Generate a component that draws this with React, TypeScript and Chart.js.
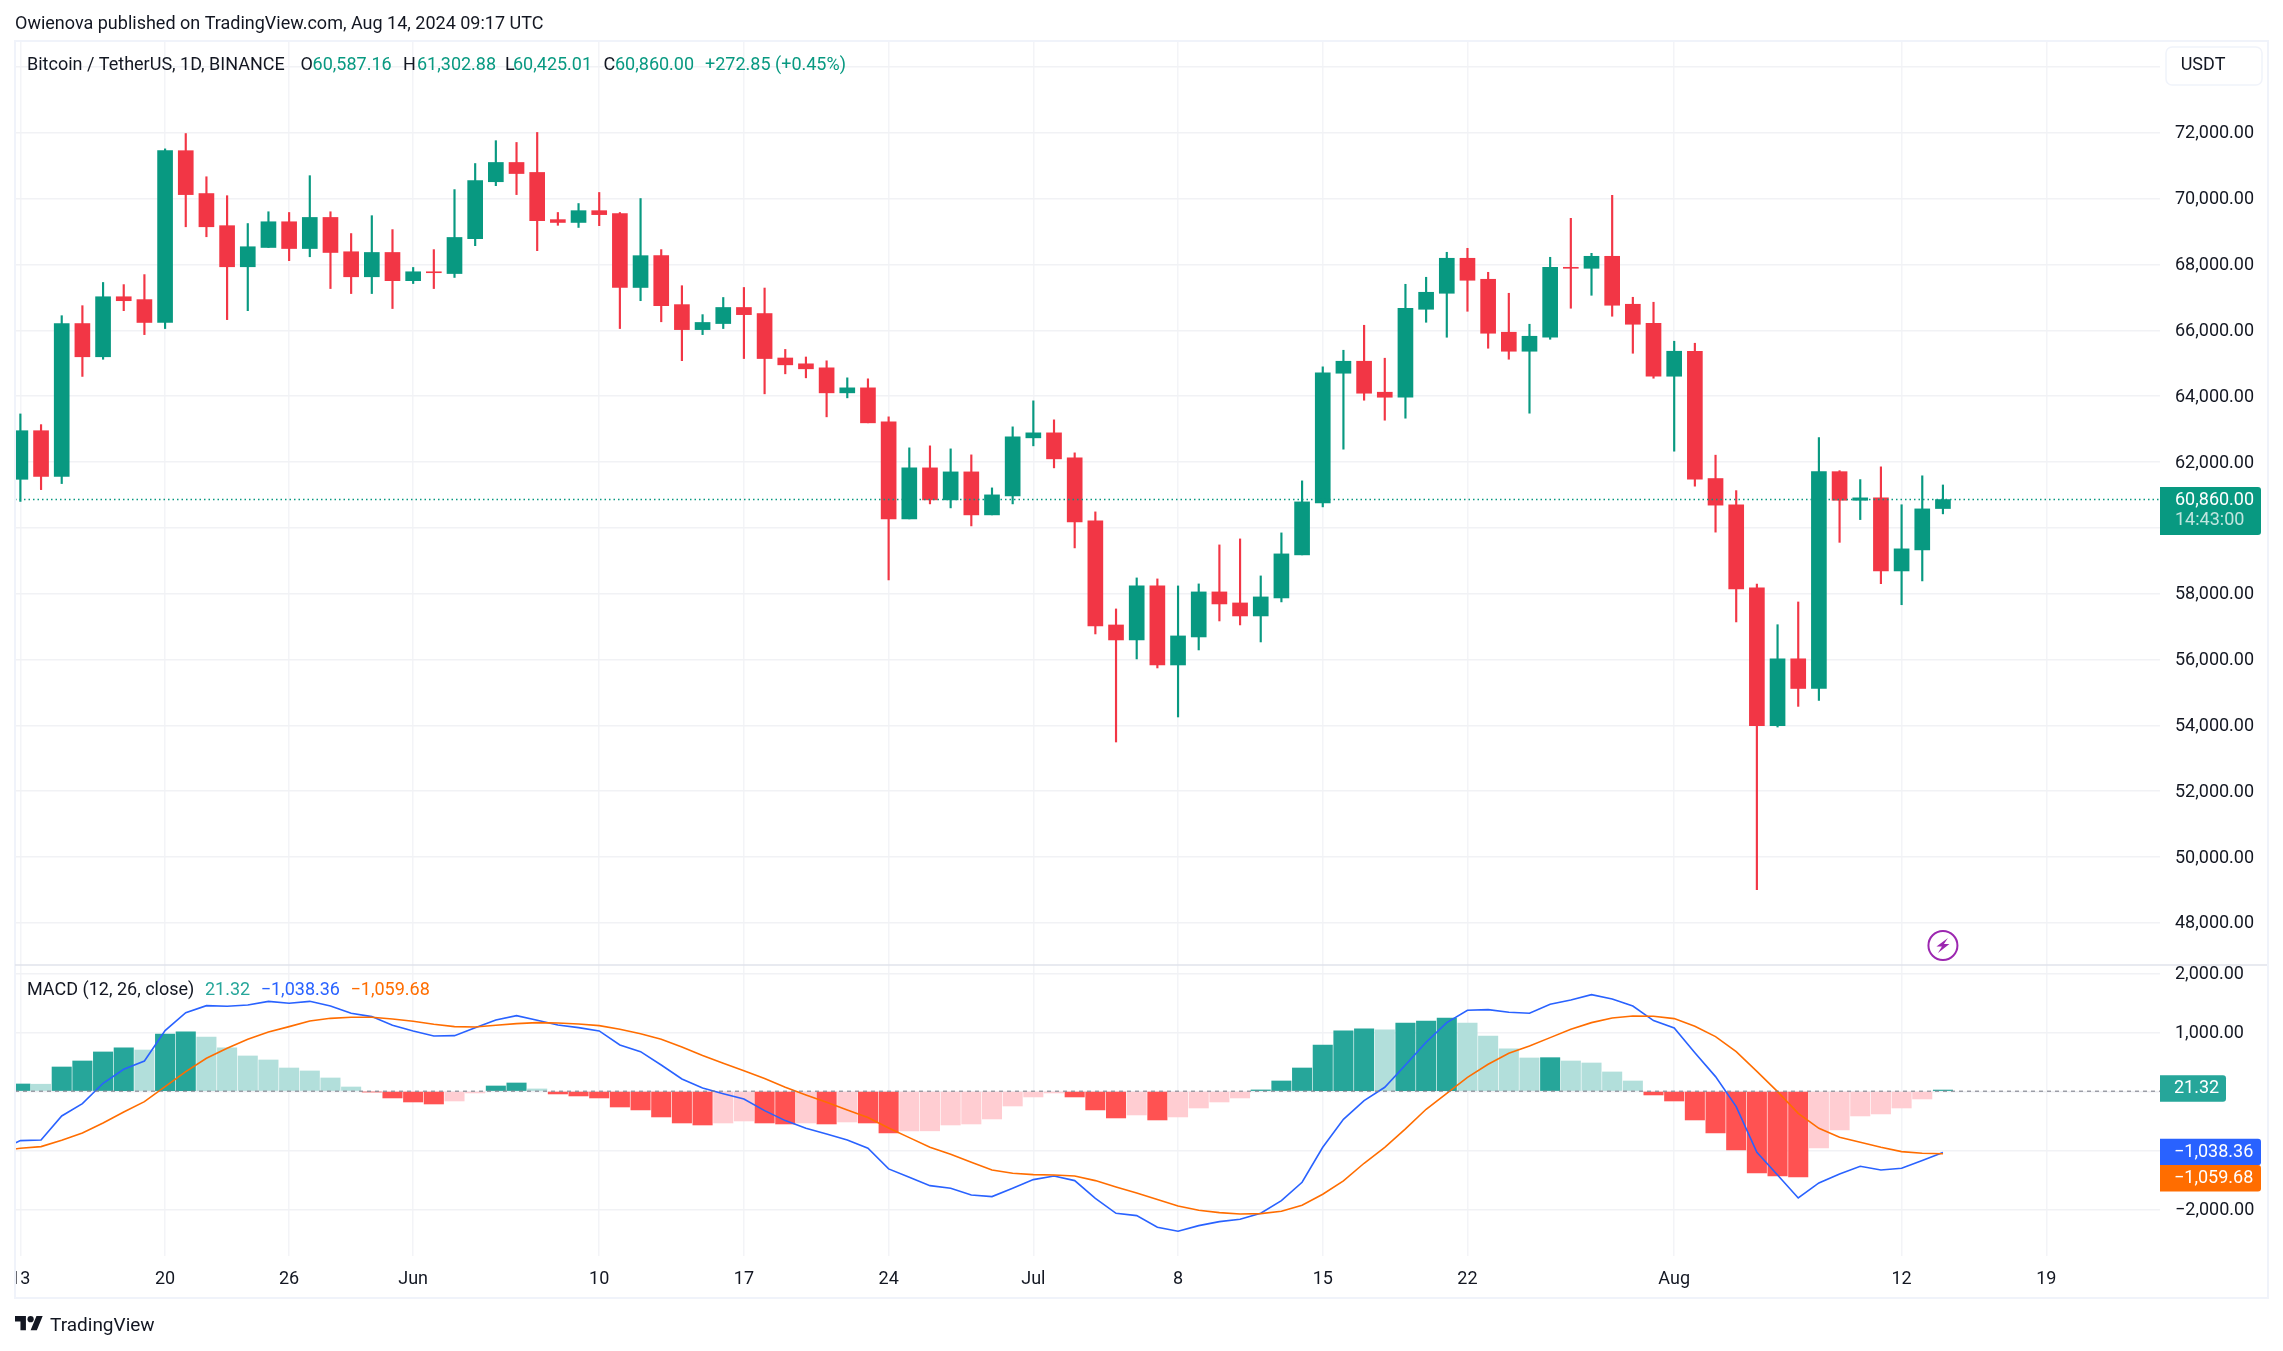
import React, { useEffect, useRef } from "react";
import { Chart, registerables } from "chart.js";

Chart.register(...registerables);

const candleOpen = [61475,62951,61562,66206,65197,67020,66933,66239,71457,70155,69179,67931,68517,69298,68485,69429,68387,67627,68365,67508,67779,67725,68788,70514,71099,70796,69363,69277,69635,69548,67302,68268,66781,66022,66206,66694,66510,65160,64983,64861,64101,64253,63220,60272,61822,60850,61700,60394,60971,62734,62886,62126,60211,57050,56595,58236,55835,56686,58054,57719,57324,57871,59179,60758,64697,65061,64120,63968,66640,67126,68189,67551,65942,65365,65790,67915,67885,68249,66792,66215,64606,65365,61498,60702,58178,53990,56022,55121,61707,60838,60911,58691,59330,60587.16];
const candleHigh = [63461,63136,66445,66749,67454,67389,67693,71512,71978,70665,70090,69244,69602,69580,70698,69602,68940,69483,69060,67910,68452,70275,71067,71761,71707,72011,69580,69852,70188,69580,70004,68452,67356,66477,66998,67302,67285,65420,65190,65074,64557,64527,63372,62430,62491,62399,62217,61214,63068,63858,63281,62278,60485,57537,58479,58449,58236,58297,59482,59664,58540,59847,61427,64891,65395,66154,65153,67399,67612,68371,68492,67763,67126,66185,68219,69403,68340,70101,67004,66853,65669,65608,62208,61131,58294,57058,57749,62743,61738,61466,61853,60702,61581,61302.88];
const candleLow = [60803,61161,61345,64600,65121,66597,65870,66054,69146,68843,66325,66597,68517,68116,68235,67269,67117,67117,66662,67421,67269,67606,68571,70394,70123,68419,69190,69125,69179,66054,66900,66260,65078,65870,66054,65143,64071,64679,64557,63372,63949,63190,58418,60272,60728,60606,60059,60394,60728,62491,61822,59391,56777,53495,56018,55744,54255,56291,57172,57051,56534,57750,59179,60637,62390,63877,63270,63331,66245,65790,66579,65456,65122,63483,65729,66671,67065,66428,65304,64545,62329,61266,59870,57142,49007,53950,54577,54755,59560,60251,58304,57665,58388,60425.01];
const candleClose = [62951,61562,66206,65197,67020,66900,66239,71457,70123,69146,67931,68539,69298,68485,69429,68365,67627,68365,67508,67779,67750,68821,70546,71099,70763,69331,69277,69635,69515,67302,68268,66749,66022,66239,66694,66477,65143,64952,64831,64101,64253,63190,60272,61822,60850,61700,60394,61002,62764,62886,62096,60181,57020,56595,58236,55835,56717,58054,57689,57324,57902,59209,60789,64709,65061,64090,63968,66671,67156,68189,67521,65912,65365,65820,67915,67885,68249,66762,66185,64606,65365,61479,60690,58147,53990,56022,55121,61707,60838,60911,58691,59362,60576,60860];

const macdHistogram = [124,120,412,514,667,735,700,972,1006,921,735,599,531,395,345,226,73,-11,-113,-181,-215,-164,-28,90,141,40,-45,-79,-113,-266,-316,-435,-537,-571,-537,-503,-537,-554,-537,-554,-520,-537,-706,-672,-670,-571,-554,-469,-249,-96,-28,-96,-316,-452,-401,-486,-435,-283,-181,-113,23,175,395,785,1023,1057,1040,1158,1192,1243,1158,938,718,565,570,514,480,328,175,-62,-164,-486,-706,-994,-1384,-1435,-1452,-960,-655,-418,-384,-283,-130,21.32];
const macdLine = [-836,-825,-418,-209,136,373,514,1028,1333,1452,1441,1463,1525,1492,1525,1446,1322,1266,1119,1023,938,943,1079,1209,1283,1203,1124,1079,1023,785,672,446,209,57,-40,-130,-328,-497,-627,-723,-825,-966,-1316,-1458,-1599,-1644,-1757,-1785,-1644,-1497,-1435,-1514,-1814,-2068,-2107,-2305,-2373,-2277,-2209,-2170,-2068,-1853,-1542,-949,-475,-158,68,446,831,1164,1373,1384,1339,1322,1475,1548,1638,1565,1446,1198,1073,655,249,-260,-1034,-1418,-1808,-1554,-1401,-1271,-1333,-1305,-1175,-1038.36];
const signalLine = [-966,-938,-831,-706,-537,-350,-175,79,333,559,729,881,1006,1096,1192,1237,1254,1254,1226,1187,1136,1096,1090,1119,1147,1164,1158,1141,1113,1051,977,881,751,605,475,350,215,68,-62,-186,-316,-446,-621,-785,-949,-1068,-1203,-1333,-1390,-1412,-1418,-1435,-1514,-1622,-1723,-1836,-1944,-2017,-2057,-2079,-2073,-2034,-1932,-1746,-1520,-1220,-949,-638,-305,-34,237,458,644,768,910,1051,1164,1243,1277,1271,1232,1102,927,672,339,-6,-373,-627,-780,-865,-949,-1023,-1051,-1059.68];
// the day before the first candle: only its line segment shows at the pane edge
const macdBefore = -994;
const signalBefore = -1011;

const dayTicks = [0,7,13,19,28,35,42,49,56,63,70,80,91,98];
const dayLabels = ["13","20","26","Jun","10","17","24","Jul","8","15","22","Aug","12","19"];
const priceTicks = [48000,50000,52000,54000,56000,58000,60000,62000,64000,66000,68000,70000,72000,74000];
const hiddenPriceTicks = [60000,74000];
const macdTicks = [-2000,-1000,0,1000,2000];
const hiddenMacdTicks = [-1000,0];

const lastPrice = 60860;
const lastHistogram = 21.32;
const lastMacd = -1038.36;
const lastSignal = -1059.68;

const W = 2283, H = 1351;
const FONT = "Roboto";
const UP = "#089981", DOWN = "#f23645";
const INK = "#131722";
const TEXT = 18;

const money = (v: number) => (v < 0 ? "\u2212" : "") + Math.abs(v).toLocaleString("en-US", { minimumFractionDigits: 2, maximumFractionDigits: 2 });
const histColor = (v: number, i: number) => {
  const prev = i > 0 ? macdHistogram[i - 1] : -Infinity;
  if (v >= 0) return v >= prev ? "#26a69a" : "#b2dfdb";
  return v < prev ? "#ff5252" : "#ffcdd2";
};

function txt(ctx: CanvasRenderingContext2D, s: string, x: number, y: number, color: string, size = TEXT) {
  ctx.font = `400 ${size}px ${FONT}`;
  ctx.fillStyle = color;
  ctx.textAlign = "left";
  ctx.textBaseline = "middle";
  ctx.fillText(s, x, y + 1);
}

const overlay = {
  id: "overlay",
  afterDatasetsDraw(chart: any) {
    const { ctx, chartArea, scales } = chart;
    ctx.save();
    const py = scales.price.getPixelForValue(lastPrice);
    ctx.strokeStyle = UP;
    ctx.lineWidth = 1.5;
    ctx.setLineDash([1.5, 3]);
    ctx.beginPath();
    ctx.moveTo(chartArea.left, py);
    ctx.lineTo(chartArea.right, py);
    ctx.stroke();
    const zy = scales.macd.getPixelForValue(0);
    ctx.strokeStyle = "rgba(120,123,134,0.7)";
    ctx.setLineDash([4, 4]);
    ctx.beginPath();
    ctx.moveTo(chartArea.left, zy);
    ctx.lineTo(chartArea.right, zy);
    ctx.stroke();
    ctx.restore();
  },
  afterDraw(chart: any) {
    const { ctx, chartArea, scales } = chart;
    const right = chartArea.right;
    ctx.save();
    // mask that clips the first date label at the pane edge
    ctx.fillStyle = "#fff";
    ctx.fillRect(0, chartArea.bottom, 14, 45);

    // frame and pane separator
    ctx.strokeStyle = "#f0f3fa";
    ctx.lineWidth = 2;
    ctx.strokeRect(15, 41, 2253, 1257);
    ctx.strokeStyle = "#e0e3eb";
    ctx.lineWidth = 1.5;
    ctx.beginPath();
    ctx.moveTo(15, 965);
    ctx.lineTo(2267, 965);
    ctx.stroke();

    // header
    txt(ctx, "Owienova published on TradingView.com, Aug 14, 2024 09:17 UTC", 15, 23, INK);
    txt(ctx, "Bitcoin / TetherUS, 1D, BINANCE", 27, 64, INK);
    const hdr: [string, number, string][] = [
      ["O", 300.5, INK], ["60,587.16", 312.6, UP],
      ["H", 403, INK], ["61,302.88", 417, UP],
      ["L", 505, INK], ["60,425.01", 513, UP],
      ["C", 603.5, INK], ["60,860.00", 615, UP],
      ["+272.85 (+0.45%)", 705, UP],
    ];
    hdr.forEach(([s, x, c]) => txt(ctx, s, x, 64, c));

    // MACD legend
    txt(ctx, "MACD (12, 26, close)", 27, 989, INK);
    txt(ctx, money(lastHistogram), 205, 989, "#26a69a");
    txt(ctx, money(lastMacd), 260.7, 989, "#2962ff");
    txt(ctx, money(lastSignal), 350.5, 989, "#ff6d00");

    // currency button
    ctx.fillStyle = "#fff";
    ctx.strokeStyle = "#f0f3fa";
    ctx.lineWidth = 1.5;
    ctx.beginPath();
    ctx.roundRect(2166, 47, 96, 38, 6);
    ctx.fill();
    ctx.stroke();
    txt(ctx, "USDT", 2180.7, 64.7, INK);

    // last price tag
    const py = scales.price.getPixelForValue(lastPrice);
    ctx.fillStyle = UP;
    ctx.beginPath();
    ctx.roundRect(right, py - 12.5, 101, 48, [0, 3, 3, 0]);
    ctx.fill();
    txt(ctx, money(lastPrice), 2175, py - 0.5, "#ffffff");
    txt(ctx, "14:43:00", 2175, py + 20, "rgba(255,255,255,0.75)");

    // MACD tags
    const tag = (v: number, color: string, w: number, offset: number) => {
      const y = scales.macd.getPixelForValue(v) + offset;
      ctx.fillStyle = color;
      ctx.beginPath();
      ctx.roundRect(right, y - 13.3, w, 26.6, [0, 3, 3, 0]);
      ctx.fill();
      txt(ctx, money(v), 2174, y - 1, "#ffffff");
    };
    tag(lastHistogram, "#26a69a", 66, -1.5);
    tag(lastMacd, "#2962ff", 101, -0.5);
    tag(lastSignal, "#ff6d00", 101, 24.5);

    // lightning marker
    const bx = scales.x.getPixelForValue(93), by = 945.5;
    ctx.strokeStyle = "#9c27b0";
    ctx.lineWidth = 2;
    ctx.beginPath();
    ctx.arc(bx, by, 14.5, 0, Math.PI * 2);
    ctx.stroke();
    ctx.fillStyle = "#9c27b0";
    ctx.beginPath();
    ctx.moveTo(bx + 5, by - 7.5);
    ctx.lineTo(bx - 6.5, by + 1);
    ctx.lineTo(bx - 1, by + 1);
    ctx.lineTo(bx - 5, by + 7.5);
    ctx.lineTo(bx + 6.5, by - 1.5);
    ctx.lineTo(bx + 1, by - 1.5);
    ctx.closePath();
    ctx.fill();

    // footer logo
    ctx.translate(15, 1313);
    ctx.scale(0.78, 0.78);
    ctx.fillStyle = INK;
    ctx.fill(new Path2D("M14 22H7V11H0V4h14v18zM28 22h-8l7.5-18h8L28 22z"));
    ctx.beginPath();
    ctx.arc(20, 8, 4, 0, Math.PI * 2);
    ctx.fill();
    ctx.setTransform(1, 0, 0, 1, 0, 0);
    txt(ctx, "TradingView", 50, 1325.5, INK, 19);
    ctx.restore();
  },
};

export default function App() {
  const ref = useRef<HTMLCanvasElement>(null);
  useEffect(() => {
    document.body.style.margin = "0";
    document.body.style.background = "#fff";
    const idx = candleOpen.map((_, i) => i);
    const candleColors = idx.map((i) => (candleClose[i] >= candleOpen[i] ? UP : DOWN));
    const fitAxis = (w: number | null, h: number | null) => (s: any) => {
      if (w !== null) s.width = w;
      if (h !== null) s.height = h;
      s.paddingLeft = s.paddingRight = s.paddingTop = s.paddingBottom = 0;
    };
    const gridLine = { color: "#f1f2f5", lineWidth: 1.5, drawTicks: false };
    const tickFont = { family: FONT, size: TEXT };
    const chart = new Chart(ref.current!, {
      type: "bar",
      data: {
        datasets: [
          { type: "line", yAxisID: "macd", order: 1, data: [{ x: -1, y: signalBefore }, ...idx.map((i) => ({ x: i, y: signalLine[i] }))], borderColor: "#ff6d00", borderWidth: 1.6, pointRadius: 0, tension: 0 },
          { type: "line", yAxisID: "macd", order: 2, data: [{ x: -1, y: macdBefore }, ...idx.map((i) => ({ x: i, y: macdLine[i] }))], borderColor: "#2962ff", borderWidth: 1.6, pointRadius: 0, tension: 0 },
          { yAxisID: "macd", order: 3, grouped: false, barThickness: 19.4, data: idx.map((i) => ({ x: i, y: macdHistogram[i] })), backgroundColor: macdHistogram.map(histColor) },
          { yAxisID: "price", order: 4, grouped: false, barThickness: 15, data: idx.map((i) => ({ x: i, y: [candleOpen[i], candleClose[i]] })), backgroundColor: candleColors },
          { yAxisID: "price", order: 5, grouped: false, barThickness: 1.5, data: idx.map((i) => ({ x: i, y: [candleLow[i], candleHigh[i]] })), backgroundColor: candleColors },
        ] as any,
      },
      options: {
        responsive: false,
        animation: false,
        devicePixelRatio: 1,
        layout: { padding: { left: 15, top: 41, right: 14, bottom: 53 } },
        plugins: { legend: { display: false }, tooltip: { enabled: false }, title: { display: false } },
        scales: {
          x: {
            type: "linear",
            offset: false,
            min: -0.26,
            max: 103.5,
            grid: { color: "#f3f4f7", lineWidth: 1.5, drawTicks: false, offset: false },
            border: { display: false },
            afterBuildTicks: (s: any) => { s.ticks = dayTicks.map((value) => ({ value })); },
            afterFit: fitAxis(null, 42),
            ticks: {
              autoSkip: false,
              maxRotation: 0,
              color: INK,
              font: tickFont,
              padding: 13,
              callback: (v: any) => dayLabels[dayTicks.indexOf(Number(v))] ?? "",
            },
          },
          price: {
            type: "linear",
            position: "right",
            stack: "panes",
            stackWeight: 924,
            min: 46721,
            max: 74789,
            grid: gridLine,
            border: { display: false },
            afterBuildTicks: (s: any) => { s.ticks = priceTicks.map((value) => ({ value })); },
            afterFit: fitAxis(109, null),
            ticks: {
              autoSkip: false,
              color: INK,
              font: tickFont,
              padding: 15,
              labelOffset: 1,
              crossAlign: "near",
              callback: (v: any) => (hiddenPriceTicks.includes(Number(v)) ? "" : money(Number(v))),
            },
          },
          macd: {
            type: "linear",
            position: "right",
            stack: "panes",
            stackWeight: 291,
            min: -2792,
            max: 2141,
            grid: gridLine,
            border: { display: false },
            afterBuildTicks: (s: any) => { s.ticks = macdTicks.map((value) => ({ value })); },
            afterFit: fitAxis(109, null),
            ticks: {
              autoSkip: false,
              color: INK,
              font: tickFont,
              padding: 15,
              labelOffset: 1,
              crossAlign: "near",
              callback: (v: any) => (hiddenMacdTicks.includes(Number(v)) ? "" : money(Number(v))),
            },
          },
        },
      } as any,
      plugins: [overlay],
    });
    return () => chart.destroy();
  }, []);
  return <canvas ref={ref} width={W} height={H} style={{ display: "block", position: "absolute", left: 0, top: 0 }} />;
}
